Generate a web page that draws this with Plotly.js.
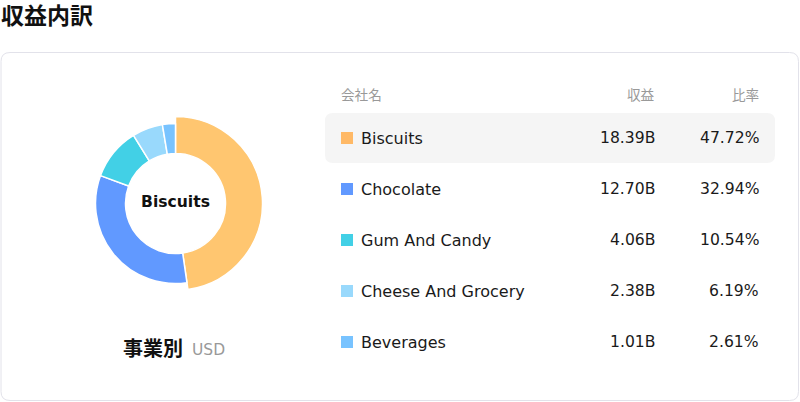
<!DOCTYPE html>
<html>
<head>
<meta charset="utf-8">
<script src="https://cdn.plot.ly/plotly-3.0.1.min.js"></script>
<style>
  html, body { margin: 0; padding: 0; background: #fff; }
  #chart { width: 800px; height: 402px; }
</style>
</head>
<body>
<div id="chart"></div>
<script>
// revenue by business segment (USD, billions)
var segments = ['Biscuits', 'Chocolate', 'Gum And Candy', 'Cheese And Grocery', 'Beverages'];
var revenue = [18.39, 12.70, 4.06, 2.38, 1.01];
var share = [47.72, 32.94, 10.54, 6.19, 2.61];
var colors = ['#FFB966', '#6199FF', '#42D0E6', '#99D9FC', '#78C3FF'];
var pieColors = ['#FFC670', '#6199FF', '#42D0E6', '#99D9FC', '#78C3FF'];
var headers = ['会社名', '収益', '比率'];
var selected = 0;

var FONT = '"DejaVu Sans", "Noto Sans CJK JP", sans-serif';
var W = 800, H = 402;

// donut geometry (px)
var cx = 175.5, cy = 203.5, rBig = 87, rSmall = 80, rHole = 50;

function pieDomain(r) {
  return {
    x: [(cx - r) / W, (cx + r) / W],
    y: [(H - cy - r) / H, (H - cy + r) / H]
  };
}

function roundRect(x0, y0, x1, y1, r) {
  return 'M' + (x0 + r) + ',' + y0 + ' L' + (x1 - r) + ',' + y0 +
    ' Q' + x1 + ',' + y0 + ' ' + x1 + ',' + (y0 + r) +
    ' L' + x1 + ',' + (y1 - r) +
    ' Q' + x1 + ',' + y1 + ' ' + (x1 - r) + ',' + y1 +
    ' L' + (x0 + r) + ',' + y1 +
    ' Q' + x0 + ',' + y1 + ' ' + x0 + ',' + (y1 - r) +
    ' L' + x0 + ',' + (y0 + r) +
    ' Q' + x0 + ',' + y0 + ' ' + (x0 + r) + ',' + y0 + ' Z';
}

// the selected slice is drawn larger, the rest on a smaller ring
var clear = 'rgba(0,0,0,0)';
var bigColors = pieColors.map(function (c, i) { return i === selected ? c : clear; });
var bigLines = pieColors.map(function (c, i) { return i === selected ? '#fff' : clear; });
var smallColors = pieColors.map(function (c, i) { return i === selected ? clear : c; });
var smallLines = pieColors.map(function (c, i) { return i === selected ? clear : '#fff'; });

var pieBase = {
  type: 'pie', labels: segments, values: revenue, sort: false,
  direction: 'clockwise', rotation: 0, textinfo: 'none',
  hoverinfo: 'label+percent', showlegend: false
};

var pieBig = Object.assign({}, pieBase, {
  domain: pieDomain(rBig), hole: rHole / rBig,
  marker: { colors: bigColors, line: { color: bigLines, width: 1.5 } }
});
var pieSmall = Object.assign({}, pieBase, {
  domain: pieDomain(rSmall), hole: rHole / rSmall,
  marker: { colors: smallColors, line: { color: smallLines, width: 1.5 } }
});

// table rows
var rowTop = 138, rowStep = 51;
var rowY = segments.map(function (s, i) { return rowTop + i * rowStep; });
var colLabel = 361, colRev = 655, colShare = 759, colSwatch = 347;

var swatches = {
  type: 'scatter', mode: 'markers', x: segments.map(function () { return colSwatch; }),
  y: rowY, xaxis: 'x', yaxis: 'y', hoverinfo: 'skip', showlegend: false,
  marker: { symbol: 'square', size: 12, color: colors, line: { width: 0 } }
};

var annotations = [
  { x: 1, y: 16, text: '<b>収益内訳</b>', font: { size: 23, color: '#111', family: FONT }, xanchor: 'left' },
  { x: cx, y: 202, text: '<b>' + segments[selected] + '</b>', font: { size: 15.6, color: '#111', family: FONT } },
  { x: 123, y: 349, text: '<b>事業別</b>', font: { size: 20, color: '#111', family: FONT }, xanchor: 'left' },
  { x: 192, y: 350, text: 'USD', font: { size: 15.5, color: '#999', family: FONT }, xanchor: 'left' },
  { x: 341, y: 95, text: headers[0], font: { size: 13.6, color: '#999', family: FONT }, xanchor: 'left' },
  { x: colRev, y: 95, text: headers[1], font: { size: 13.6, color: '#999', family: FONT }, xanchor: 'right' },
  { x: colShare, y: 95, text: headers[2], font: { size: 13.6, color: '#999', family: FONT }, xanchor: 'right' }
];

segments.forEach(function (s, i) {
  var fl = { size: 16, color: '#1a1a1a', family: FONT };
  var fn = { size: 15.6, color: '#1a1a1a', family: FONT };
  annotations.push({ x: colLabel, y: rowY[i], text: s, font: fl, xanchor: 'left' });
  annotations.push({ x: colRev, y: rowY[i], text: revenue[i].toFixed(2) + 'B', font: fn, xanchor: 'right' });
  annotations.push({ x: colShare, y: rowY[i], text: share[i].toFixed(2) + '%', font: fn, xanchor: 'right' });
});
annotations.forEach(function (a) {
  a.xref = 'x'; a.yref = 'y'; a.showarrow = false; a.yanchor = 'middle';
  a.borderpad = 0; a.borderwidth = 0;
});

var shapes = [
  // card
  { type: 'path', xref: 'x', yref: 'y', layer: 'below', path: roundRect(1, 52.5, 798.5, 400.5, 9),
    fillcolor: '#fff', line: { color: '#e2e2ea', width: 1 } },
  // highlighted row
  { type: 'path', xref: 'x', yref: 'y', layer: 'below',
    path: roundRect(325, rowY[selected] - 25, 775, rowY[selected] + 25, 8),
    fillcolor: '#f5f5f5', line: { width: 0 } }
];

var layout = {
  width: W, height: H,
  margin: { l: 0, r: 0, t: 0, b: 0 },
  paper_bgcolor: '#fff', plot_bgcolor: 'rgba(0,0,0,0)',
  xaxis: { range: [0, W], visible: false, fixedrange: true },
  yaxis: { range: [H, 0], visible: false, fixedrange: true },
  font: { family: FONT },
  annotations: annotations,
  shapes: shapes,
  showlegend: false
};

Plotly.newPlot('chart', [swatches, pieBig, pieSmall], layout, { displayModeBar: false, staticPlot: true });
</script>
</body>
</html>
